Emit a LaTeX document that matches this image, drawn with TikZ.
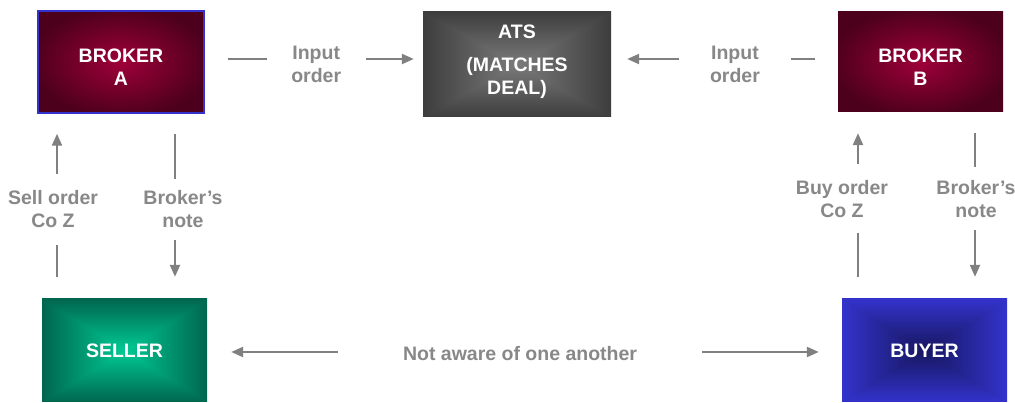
\documentclass[tikz,border=0pt]{standalone}
\usepackage{fontspec}
\setmainfont{Liberation Sans}
\usetikzlibrary{arrows.meta}

\definecolor{rim}{RGB}{51,51,204}
\definecolor{ink}{RGB}{128,128,128}
\definecolor{tagink}{RGB}{136,136,136}

% gradient fills: #1 name, #2-#4 centre rgb, #5-#7 rim rgb
\newcommand\rectshade[7]{%
  \pgfdeclarefunctionalshading{#1}{\pgfpoint{-50bp}{-50bp}}{\pgfpoint{50bp}{50bp}}{}{%
    abs exch abs 2 copy lt {exch} if pop 25 div dup 1 gt {pop 1} if
    dup dup #5 #2 sub mul #2 add 3 1 roll
    #6 #3 sub mul #3 add exch #7 #4 sub mul #4 add}}
\newcommand\ovalshade[7]{%
  \pgfdeclarefunctionalshading{#1}{\pgfpoint{-50bp}{-50bp}}{\pgfpoint{50bp}{50bp}}{}{%
    dup mul exch dup mul add sqrt 27 div dup 1 gt {pop 1} if
    dup dup #5 #2 sub mul #2 add 3 1 roll
    #6 #3 sub mul #3 add exch #7 #4 sub mul #4 add}}

\ovalshade{brokerfill}{0.62}{0.0}{0.22}{0.30}{0.0}{0.11}
\rectshade{atsfill}{0.48}{0.48}{0.48}{0.24}{0.24}{0.24}
\rectshade{sellerfill}{0.0}{0.79}{0.58}{0.0}{0.40}{0.31}
\rectshade{buyerfill}{0.09}{0.09}{0.38}{0.20}{0.20}{0.80}

\begin{document}
\begin{tikzpicture}[x=1pt,y=1pt,
    every node/.style={font=\fontsize{19.5}{23}\selectfont\bfseries, align=center},
    box/.style={white, inner sep=0pt},
    tag/.style={text=tagink, fill=white, inner sep=0pt},
    flow/.style={draw=ink, line width=2.3pt, -{Triangle[length=12pt,width=10pt]}}]
  \useasboundingbox (0,0) rectangle (1015,403);
  \node[box, shading=brokerfill, draw=rim, line width=1.5pt, text height=47pt, text depth=0pt,
        minimum width=166pt, minimum height=102pt] (brokerA) at (121,341) {BROKER\\A};
  \node[box, shading=atsfill, text depth=10pt, minimum width=188pt, minimum height=105pt]
        (ats) at (517,338.5) {ATS\\[9.5pt](MATCHES\\DEAL)};
  \node[box, shading=brokerfill, text height=47pt, text depth=0pt,
        minimum width=165pt, minimum height=100pt] (brokerB) at (920.5,341) {BROKER\\B};
  \node[box, shading=sellerfill, minimum width=165pt, minimum height=103pt]
        (seller) at (124.5,52.5) {SELLER};
  \node[box, shading=buyerfill, minimum width=165pt, minimum height=103pt]
        (buyer) at (924.5,52.5) {BUYER};

  % brokers to the ATS
  \draw[flow, shorten <=23pt, shorten >=9pt] ([yshift=3pt]brokerA.east) -- ([yshift=5.5pt]ats.west)
    node[tag, pos=.511, yshift=-5.5pt, inner xsep=24.5pt] {Input\\order};
  \draw[flow, shorten <=23pt, shorten >=16pt] ([yshift=3pt]brokerB.west) -- ([yshift=5.5pt]ats.east)
    node[tag, pos=.454, yshift=-5.5pt, inner xsep=31.5pt] {Input\\order};

  % clients and brokers
  \draw[flow, shorten <=22pt, shorten >=20pt] ([xshift=-67.5pt]seller.north) -- ([xshift=-64pt]brokerA.south)
    node[tag, pos=.484, xshift=-4pt, inner ysep=17pt] {Sell order\\Co Z};
  \draw[flow, shorten <=20pt, shorten >=22pt] ([xshift=54pt]brokerA.south) -- ([xshift=50.5pt]seller.north)
    node[tag, pos=.516, xshift=8pt, inner ysep=12pt] {Broker’s\\note};
  \draw[flow, shorten <=22pt, shorten >=21pt] ([xshift=-66.5pt]buyer.north) -- ([xshift=-62.5pt]brokerB.south)
    node[tag, pos=.537, xshift=-16pt, inner ysep=16pt] {Buy order\\Co Z};
  \draw[flow, shorten <=21pt, shorten >=22pt] ([xshift=54.5pt]brokerB.south) -- ([xshift=50.5pt]buyer.north)
    node[tag, pos=.463, xshift=1pt, inner ysep=13pt] {Broker’s\\note};

  % seller and buyer
  \draw[flow, {Triangle[length=12pt,width=10pt]}-{Triangle[length=12pt,width=10pt]},
        shorten <=24pt, shorten >=23pt] ([yshift=-1.5pt]seller.east) -- ([yshift=-1.5pt]buyer.west)
    node[tag, pos=.493, yshift=-2pt, inner xsep=65pt] {Not aware of one another};
\end{tikzpicture}
\end{document}
